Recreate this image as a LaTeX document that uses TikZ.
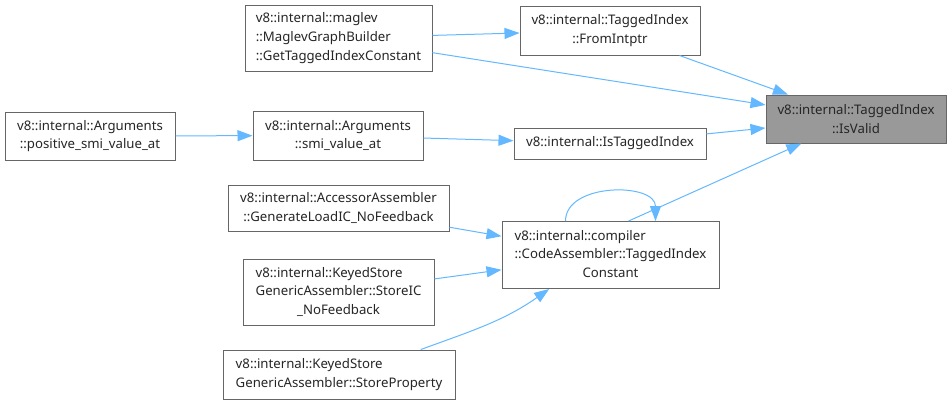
\documentclass[tikz,border=0pt]{standalone}
\usepackage{fontspec}
\setmainfont{Noto Sans}
\usepackage{xcolor}
\usepackage{tikz}
\usetikzlibrary{arrows.meta}

\definecolor{edgeblue}{HTML}{63B8FF}
\definecolor{boxline}{HTML}{666666}
\definecolor{hilite}{HTML}{999999}

% mixed left / centred lines, as in the call graph labels
\newcommand{\leftlines}[1]{\begin{tabular}{@{}l@{}}#1\end{tabular}}
\newcommand{\midline}[1]{\multicolumn{1}{@{}c@{}}{#1}}

\begin{document}
\begin{tikzpicture}[
    x=1pt, y=-1pt,
    font=\fontsize{13.2}{18.7}\selectfont,
    box/.style={rectangle, draw=boxline, line width=1pt, inner sep=0pt, align=center, fill=white, text=black!85},
    arrow/.style={->, >={Triangle[length=15pt, width=11pt]}, draw=edgeblue, line width=1pt}
]
    \useasboundingbox (0,0) rectangle (952,405);

    % Callee
    \node[box, fill=hilite, minimum width=180pt, minimum height=48pt] (isvalid) at (856,119) {v8::internal::TaggedIndex\\::IsValid};

    % Direct callers
    \node[box, minimum width=180pt, minimum height=49pt] (fromintptr) at (610,30.5) {v8::internal::TaggedIndex\\::FromIntptr};
    \node[box, minimum width=192pt, minimum height=31pt] (istagged) at (610,143.5) {v8::internal::IsTaggedIndex};
    \node[box, minimum width=217pt, minimum height=67pt] (codeasm) at (610.5,255) {\leftlines{v8::internal::compiler\\::CodeAssembler::TaggedIndex\\\midline{Constant}}};

    % Second level
    \node[box, align=left, minimum width=187pt, minimum height=66pt] (maglev) at (338.5,38) {v8::internal::maglev\\::MaglevGraphBuilder\\::GetTaggedIndexConstant};
    \node[box, minimum width=170pt, minimum height=49pt] (smi) at (338,135.5) {v8::internal::Arguments\\::smi\_value\_at};
    \node[box, minimum width=221pt, minimum height=46pt] (accessor) at (338.5,208) {v8::internal::AccessorAssembler\\::GenerateLoadIC\_NoFeedback};
    \node[box, minimum width=191pt, minimum height=66pt] (storeic) at (338.5,292) {\leftlines{v8::internal::KeyedStore\\GenericAssembler::StoreIC\\\midline{\_NoFeedback}}};
    \node[box, align=left, minimum width=232pt, minimum height=49pt] (storeprop) at (339,374.5) {v8::internal::KeyedStore\\GenericAssembler::StoreProperty};

    % Third level
    \node[box, minimum width=170pt, minimum height=48pt] (positive) at (90,136) {v8::internal::Arguments\\::positive\_smi\_value\_at};

    % Arrows
    \draw[arrow] (fromintptr) -- (isvalid);
    \draw[arrow] (maglev) -- (isvalid);
    \draw[arrow] (istagged) -- (isvalid);
    \draw[arrow] (codeasm.62) -- (isvalid);

    \draw[arrow] (maglev) -- (fromintptr);
    \draw[arrow] (smi) -- (istagged);
    \draw[arrow] (positive) -- (smi);

    \draw[arrow] ([xshift=-45pt]codeasm.north) to[out=90, in=90, looseness=1.1] ([xshift=45pt]codeasm.north);
    \draw[arrow] (accessor) -- (codeasm);
    \draw[arrow] (storeic) -- (codeasm);
    \draw[arrow] (storeprop.17) to[out=20, in=215] (codeasm.209);
\end{tikzpicture}
\end{document}
